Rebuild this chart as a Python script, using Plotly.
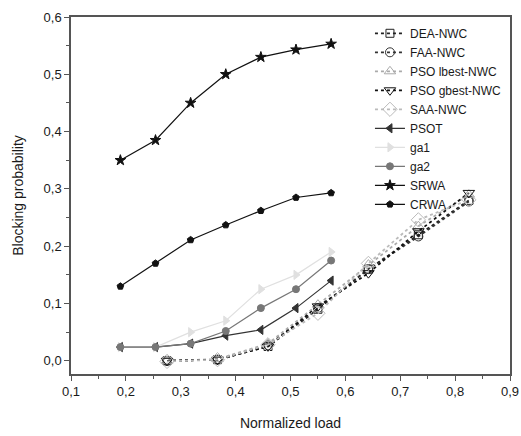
import plotly.graph_objects as go

load_a = [0.19, 0.254, 0.318, 0.382, 0.446, 0.51, 0.574]
load_b = [0.275, 0.367, 0.459, 0.55, 0.642, 0.733, 0.825]

dea_nwc = [0.0, 0.002, 0.025, 0.090, 0.160, 0.220, 0.280]
faa_nwc = [0.0, 0.002, 0.027, 0.092, 0.160, 0.217, 0.278]
psol_nwc = [0.0, 0.003, 0.030, 0.098, 0.168, 0.235, 0.290]
psog_nwc = [0.0, 0.002, 0.025, 0.095, 0.153, 0.226, 0.293]
saa_nwc = [-0.001, 0.002, 0.028, 0.083, 0.170, 0.246, 0.281]

psot = [0.024, 0.024, 0.030, 0.044, 0.054, 0.092, 0.140]
ga1 = [0.024, 0.024, 0.050, 0.070, 0.125, 0.150, 0.190]
ga2 = [0.024, 0.024, 0.030, 0.052, 0.092, 0.125, 0.175]
srwa = [0.350, 0.385, 0.450, 0.500, 0.530, 0.543, 0.553]
crwa = [0.130, 0.170, 0.211, 0.237, 0.262, 0.285, 0.293]

fig = go.Figure()

def add(name, x, y, color, symbol, dash, size, width=1.2):
    fig.add_trace(go.Scatter(
        x=x, y=y, name=name, mode="lines+markers",
        line=dict(color=color, width=width, dash=dash),
        marker=dict(symbol=symbol, size=size, color=color,
                    line=dict(color=color, width=1)),
    ))

add("DEA-NWC", load_b, dea_nwc, "#222222", "square-open", "dot", 8, 1.8)
add("FAA-NWC", load_b, faa_nwc, "#333333", "circle-open", "dot", 9, 1.8)
add("PSO lbest-NWC", load_b, psol_nwc, "#aaaaaa", "triangle-up-open", "dot", 10, 1.8)
add("PSO gbest-NWC", load_b, psog_nwc, "#111111", "triangle-down-open", "dot", 10, 1.8)
add("SAA-NWC", load_b, saa_nwc, "#bbbbbb", "diamond-open", "dot", 11, 1.8)
add("PSOT", load_a, psot, "#333333", "triangle-left", "solid", 8)
add("ga1", load_a, ga1, "#e0e0e0", "triangle-right", "solid", 8)
add("ga2", load_a, ga2, "#777777", "circle", "solid", 7)
add("SRWA", load_a, srwa, "#111111", "star", "solid", 8)
add("CRWA", load_a, crwa, "#111111", "pentagon", "solid", 7)

axis_common = dict(
    showline=True, linecolor="#555555", linewidth=1.5, mirror=True,
    ticks="outside", ticklen=5, tickwidth=1.2, tickcolor="#555555",
    showgrid=False, zeroline=False, automargin=False,
    tickfont=dict(family="Liberation Sans, Arial", size=13, color="#1a1a1a"),
    tickformat=".1f",
    minor=dict(ticks="outside", ticklen=3, tickwidth=1.2, tickcolor="#555555", dtick=0.05),
)

fig.update_layout(
    width=521, height=436,
    margin=dict(l=71, r=11, t=17, b=62),
    paper_bgcolor="white", plot_bgcolor="white",
    separators=",.",
    font=dict(family="Liberation Sans, Arial", size=13, color="#1a1a1a"),
    xaxis=dict(range=[0.1, 0.9], dtick=0.1, tick0=0.1,
               title=dict(text="Normalized load", font=dict(size=14), standoff=20),
               **axis_common),
    yaxis=dict(range=[-0.023, 0.6], dtick=0.1, tick0=0,
               title=dict(text="Blocking probability", font=dict(size=14), standoff=17),
               **axis_common),
    legend=dict(x=0.681, y=0.995, xanchor="left", yanchor="top",
                bgcolor="rgba(0,0,0,0)", font=dict(size=12),
                tracegroupgap=0, itemwidth=30),
    showlegend=True,
)

fig.write_html("out.html",
               config={"displayModeBar": False},
               post_script="document.body.style.margin='0px';document.body.style.overflow='hidden';")
